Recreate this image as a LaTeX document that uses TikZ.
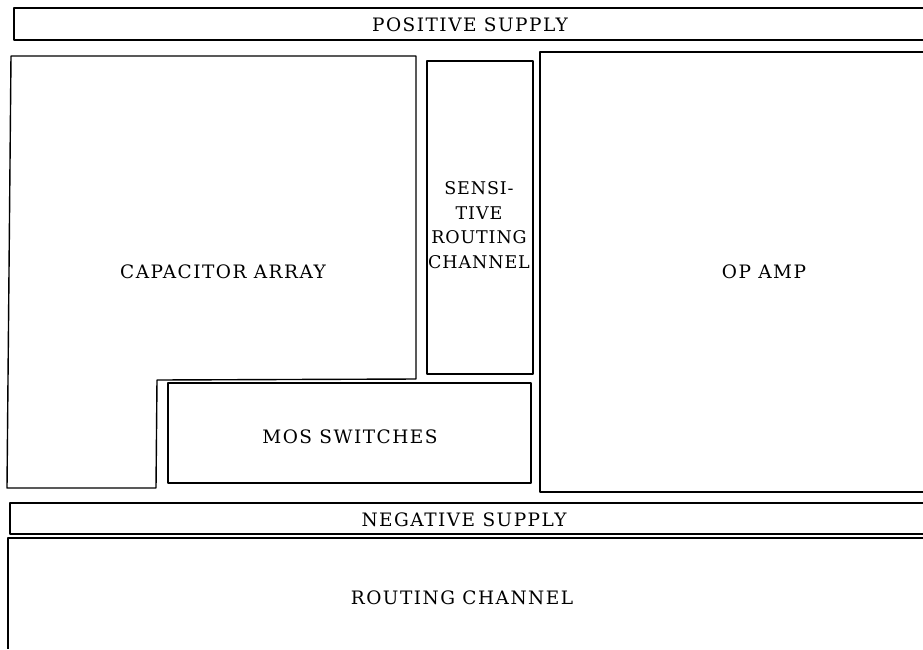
\documentclass[tikz,border=0pt]{standalone}
\usepackage{fontspec}
\setmainfont{DejaVu Serif}[LetterSpace=8]
\usepackage{tikz}

\tikzset{
  block/.style={line width=1.4pt, line join=round},
  label/.style={font=\fontsize{18.5}{22}\selectfont, inner sep=0pt, align=center}
}

\begin{document}
\begin{tikzpicture}[x=1pt, y=-1pt]
  % frame of the page
  \useasboundingbox (0,0) rectangle (923,649);

  % Positive supply rail (runs off the right edge)
  \draw[block] (923,8) -- (14,8) -- (14,40) -- (923,40);
  \node[label] (possup) at (470,25) {POSITIVE SUPPLY};

  % Capacitor array with the notch for the switches
  \draw[block] (11,56) -- (416,56) -- (416,379) -- (157,380)
    -- (156,488) -- (7,488) -- cycle;
  \node[label] (caparr) at (223,272) {CAPACITOR ARRAY};

  % Sensitive routing channel
  \draw[block] (427,61) rectangle (533,374);
  \node[label, font=\fontsize{17.5}{24.5}\selectfont\addfontfeature{LetterSpace=5}]
    (sensch) at (479,225) {SENSI-\\TIVE\\ROUTING\\CHANNEL};

  % Op amp (open on the right)
  \draw[block] (923,52) -- (540,52) -- (540,492) -- (923,492);
  \node[label] (opamp) at (764,272) {OP AMP};

  % MOS switches
  \draw[block] (168,383) rectangle (531,483);
  \node[label] (mossw) at (350,437) {MOS SWITCHES};

  % Negative supply rail
  \draw[block] (923,503) -- (10,503) -- (10,534) -- (923,534);
  \node[label] (negsup) at (464,520) {NEGATIVE SUPPLY};

  % Routing channel at the bottom
  \draw[block] (923,538) -- (8,538) -- (8,649);
  \node[label] (routch) at (462,598) {ROUTING CHANNEL};

\end{tikzpicture}
\end{document}
